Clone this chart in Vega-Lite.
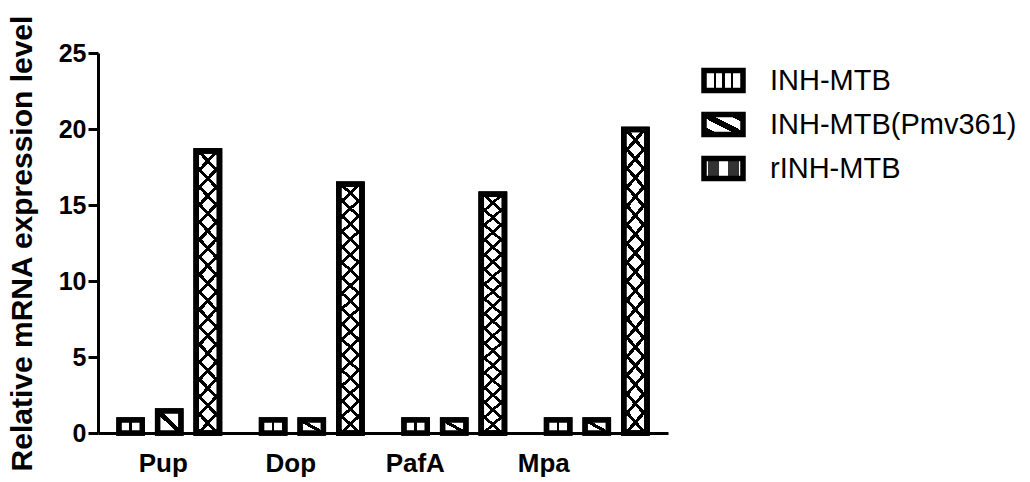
{
  "$schema": "https://vega.github.io/schema/vega-lite/v6.json",
  "width": 570,
  "height": 380,
  "autosize": {"type": "none"},
  "padding": {"left": 98, "top": 53, "right": 362, "bottom": 49},
  "background": "white",
  "config": {
    "view": {"stroke": null},
    "font": "Liberation Sans"
  },
  "data": {
    "values": [
      {"gene": "Pup", "group": "INH-MTB", "value": 0.85},
      {"gene": "Pup", "group": "INH-MTB(Pmv361)", "value": 1.45},
      {"gene": "Pup", "group": "rINH-MTB", "value": 18.55},
      {"gene": "Dop", "group": "INH-MTB", "value": 0.85},
      {"gene": "Dop", "group": "INH-MTB(Pmv361)", "value": 0.85},
      {"gene": "Dop", "group": "rINH-MTB", "value": 16.36},
      {"gene": "PafA", "group": "INH-MTB", "value": 0.85},
      {"gene": "PafA", "group": "INH-MTB(Pmv361)", "value": 0.85},
      {"gene": "PafA", "group": "rINH-MTB", "value": 15.7},
      {"gene": "Mpa", "group": "INH-MTB", "value": 0.85},
      {"gene": "Mpa", "group": "INH-MTB(Pmv361)", "value": 0.85},
      {"gene": "Mpa", "group": "rINH-MTB", "value": 19.97}
    ]
  },
  "encoding": {
    "x": {
      "field": "gene",
      "type": "nominal",
      "sort": ["Pup", "Dop", "PafA", "Mpa"],
      "scale": {"paddingInner": 0.19, "paddingOuter": 0.095},
      "axis": {
        "title": null,
        "labelAngle": 0,
        "labelFontSize": 26,
        "labelFontWeight": "bold",
        "labelColor": "black",
        "labelPadding": 17,
        "labelOffset": {
          "condition": [
            {"test": "datum.value === 'Pup'", "value": -6},
            {"test": "datum.value === 'Dop'", "value": -21},
            {"test": "datum.value === 'PafA'", "value": -39}
          ],
          "value": -53
        },
        "ticks": false,
        "domainColor": "black",
        "domainWidth": 3
      }
    },
    "xOffset": {
      "field": "group",
      "type": "nominal",
      "sort": ["INH-MTB", "INH-MTB(Pmv361)", "rINH-MTB"],
      "scale": {"paddingInner": 0.4, "paddingOuter": 0.195}
    },
    "y": {
      "field": "value",
      "type": "quantitative",
      "scale": {"domain": [0, 25], "nice": false},
      "axis": {
        "title": "Relative mRNA expression level",
        "titleFontSize": 30,
        "titleFontWeight": "bold",
        "titleColor": "black",
        "titlePadding": 21,
        "values": [0, 5, 10, 15, 20, 25],
        "labelFontSize": 25,
        "labelFontWeight": "bold",
        "labelColor": "black",
        "labelPadding": 2,
        "tickSize": 10,
        "tickWidth": 3,
        "tickColor": "black",
        "domainColor": "black",
        "domainWidth": 3,
        "grid": false
      }
    }
  },
  "layer": [
    {
      "mark": {"type": "bar", "stroke": "black", "strokeWidth": 5.5, "strokeJoin": "miter"},
      "encoding": {
        "fill": {
          "field": "group",
          "type": "nominal",
          "sort": ["INH-MTB", "INH-MTB(Pmv361)", "rINH-MTB"],
          "scale": {
            "domain": ["INH-MTB", "INH-MTB(Pmv361)", "rINH-MTB"],
            "range": [
              {"expr": "{gradient: 'linear', x1: 0, y1: 0, x2: 1, y2: 0, stops: [{offset: 0, color: 'white'}, {offset: 0.256, color: 'white'}, {offset: 0.256, color: 'black'}, {offset: 0.32, color: 'black'}, {offset: 0.32, color: 'white'}, {offset: 0.468, color: 'white'}, {offset: 0.468, color: 'black'}, {offset: 0.532, color: 'black'}, {offset: 0.532, color: 'white'}, {offset: 0.68, color: 'white'}, {offset: 0.68, color: 'black'}, {offset: 0.744, color: 'black'}, {offset: 0.744, color: 'white'}, {offset: 1, color: 'white'}]}"},
              {"expr": "{gradient: 'linear', x1: 0, y1: 1, x2: 1, y2: 0, stops: [{offset: 0, color: 'black'}, {offset: 0.2, color: 'black'}, {offset: 0.2, color: 'white'}, {offset: 0.42, color: 'white'}, {offset: 0.42, color: 'black'}, {offset: 0.58, color: 'black'}, {offset: 0.58, color: 'white'}, {offset: 0.8, color: 'white'}, {offset: 0.8, color: 'black'}, {offset: 1, color: 'black'}]}"},
              {"expr": "{gradient: 'linear', x1: 0, y1: 0, x2: 1, y2: 0, stops: [{offset: 0, color: 'white'}, {offset: 0.1, color: 'white'}, {offset: 0.1, color: '#333'}, {offset: 0.38, color: '#333'}, {offset: 0.38, color: 'white'}, {offset: 0.62, color: 'white'}, {offset: 0.62, color: '#333'}, {offset: 0.9, color: '#333'}, {offset: 0.9, color: 'white'}, {offset: 1, color: 'white'}]}"}
            ]
          },
          "legend": {
            "title": null,
            "orient": "none",
            "legendX": 603,
            "legendY": 5,
            "padding": 0,
            "symbolType": "M-1,-0.513H1V0.513H-1Z",
            "symbolSize": 1521,
            "symbolStrokeColor": "black",
            "symbolStrokeWidth": 5.5,
            "labelFontSize": 29,
            "labelColor": "black",
            "labelOffset": 24,
            "rowPadding": 0,
            "labelLimit": 400
          }
        }
      }
    },
    {
      "transform": [{"filter": "datum.group === 'INH-MTB'"}],
      "mark": {
        "type": "bar",
        "stroke": "black",
        "strokeWidth": 5.5,
        "strokeJoin": "miter",
        "fill": {"gradient": "linear", "x1": 0, "y1": 0, "x2": 1, "y2": 0, "stops": [
          {"offset": 0, "color": "white"}, {"offset": 0.45, "color": "white"},
          {"offset": 0.45, "color": "black"}, {"offset": 0.55, "color": "black"},
          {"offset": 0.55, "color": "white"}, {"offset": 1, "color": "white"}]}
      }
    },
    {
      "transform": [{"filter": "datum.group === 'INH-MTB(Pmv361)'"}],
      "mark": {
        "type": "bar",
        "stroke": "black",
        "strokeWidth": 5.5,
        "strokeJoin": "miter",
        "fill": {"gradient": "linear", "x1": 0, "y1": 1, "x2": 1, "y2": 0, "stops": [
          {"offset": 0, "color": "white"}, {"offset": 0.43, "color": "white"},
          {"offset": 0.43, "color": "black"}, {"offset": 0.57, "color": "black"},
          {"offset": 0.57, "color": "white"}, {"offset": 1, "color": "white"}]}
      }
    },
    {
      "transform": [{"filter": "datum.group === 'rINH-MTB'"}],
      "mark": {
        "type": "bar",
        "stroke": "black",
        "strokeWidth": 5.5,
        "strokeJoin": "miter",
        "fill": {"gradient": "linear", "x1": 0, "y1": 0, "x2": 0.094, "y2": 1.079, "stops": [
          {"offset": 0, "color": "white"},
          {"offset": 0.00829, "color": "white"}, {"offset": 0.00829, "color": "black"}, {"offset": 0.02276, "color": "black"}, {"offset": 0.02276, "color": "white"},
          {"offset": 0.06529, "color": "white"}, {"offset": 0.06529, "color": "black"}, {"offset": 0.07976, "color": "black"}, {"offset": 0.07976, "color": "white"},
          {"offset": 0.12229, "color": "white"}, {"offset": 0.12229, "color": "black"}, {"offset": 0.13676, "color": "black"}, {"offset": 0.13676, "color": "white"},
          {"offset": 0.17928, "color": "white"}, {"offset": 0.17928, "color": "black"}, {"offset": 0.19375, "color": "black"}, {"offset": 0.19375, "color": "white"},
          {"offset": 0.23628, "color": "white"}, {"offset": 0.23628, "color": "black"}, {"offset": 0.25075, "color": "black"}, {"offset": 0.25075, "color": "white"},
          {"offset": 0.29328, "color": "white"}, {"offset": 0.29328, "color": "black"}, {"offset": 0.30775, "color": "black"}, {"offset": 0.30775, "color": "white"},
          {"offset": 0.35027, "color": "white"}, {"offset": 0.35027, "color": "black"}, {"offset": 0.36474, "color": "black"}, {"offset": 0.36474, "color": "white"},
          {"offset": 0.40727, "color": "white"}, {"offset": 0.40727, "color": "black"}, {"offset": 0.42174, "color": "black"}, {"offset": 0.42174, "color": "white"},
          {"offset": 0.46427, "color": "white"}, {"offset": 0.46427, "color": "black"}, {"offset": 0.47874, "color": "black"}, {"offset": 0.47874, "color": "white"},
          {"offset": 0.52126, "color": "white"}, {"offset": 0.52126, "color": "black"}, {"offset": 0.53573, "color": "black"}, {"offset": 0.53573, "color": "white"},
          {"offset": 0.57826, "color": "white"}, {"offset": 0.57826, "color": "black"}, {"offset": 0.59273, "color": "black"}, {"offset": 0.59273, "color": "white"},
          {"offset": 0.63526, "color": "white"}, {"offset": 0.63526, "color": "black"}, {"offset": 0.64973, "color": "black"}, {"offset": 0.64973, "color": "white"},
          {"offset": 0.69225, "color": "white"}, {"offset": 0.69225, "color": "black"}, {"offset": 0.70672, "color": "black"}, {"offset": 0.70672, "color": "white"},
          {"offset": 0.74925, "color": "white"}, {"offset": 0.74925, "color": "black"}, {"offset": 0.76372, "color": "black"}, {"offset": 0.76372, "color": "white"},
          {"offset": 0.80625, "color": "white"}, {"offset": 0.80625, "color": "black"}, {"offset": 0.82072, "color": "black"}, {"offset": 0.82072, "color": "white"},
          {"offset": 0.86324, "color": "white"}, {"offset": 0.86324, "color": "black"}, {"offset": 0.87771, "color": "black"}, {"offset": 0.87771, "color": "white"},
          {"offset": 0.92024, "color": "white"}, {"offset": 0.92024, "color": "black"}, {"offset": 0.93471, "color": "black"}, {"offset": 0.93471, "color": "white"},
          {"offset": 0.97724, "color": "white"}, {"offset": 0.97724, "color": "black"}, {"offset": 0.99171, "color": "black"}, {"offset": 0.99171, "color": "white"},
          {"offset": 1, "color": "white"}]}
      }
    },
    {
      "transform": [{"filter": "datum.group === 'rINH-MTB'"}],
      "mark": {
        "type": "bar",
        "stroke": "black",
        "strokeWidth": 5.5,
        "strokeJoin": "miter",
        "fill": {"gradient": "linear", "x1": 0, "y1": 1, "x2": 0.094, "y2": -0.079, "stops": [
          {"offset": 0, "color": "rgba(0,0,0,0)"},
          {"offset": 0.00829, "color": "rgba(0,0,0,0)"}, {"offset": 0.00829, "color": "black"}, {"offset": 0.02276, "color": "black"}, {"offset": 0.02276, "color": "rgba(0,0,0,0)"},
          {"offset": 0.06529, "color": "rgba(0,0,0,0)"}, {"offset": 0.06529, "color": "black"}, {"offset": 0.07976, "color": "black"}, {"offset": 0.07976, "color": "rgba(0,0,0,0)"},
          {"offset": 0.12229, "color": "rgba(0,0,0,0)"}, {"offset": 0.12229, "color": "black"}, {"offset": 0.13676, "color": "black"}, {"offset": 0.13676, "color": "rgba(0,0,0,0)"},
          {"offset": 0.17928, "color": "rgba(0,0,0,0)"}, {"offset": 0.17928, "color": "black"}, {"offset": 0.19375, "color": "black"}, {"offset": 0.19375, "color": "rgba(0,0,0,0)"},
          {"offset": 0.23628, "color": "rgba(0,0,0,0)"}, {"offset": 0.23628, "color": "black"}, {"offset": 0.25075, "color": "black"}, {"offset": 0.25075, "color": "rgba(0,0,0,0)"},
          {"offset": 0.29328, "color": "rgba(0,0,0,0)"}, {"offset": 0.29328, "color": "black"}, {"offset": 0.30775, "color": "black"}, {"offset": 0.30775, "color": "rgba(0,0,0,0)"},
          {"offset": 0.35027, "color": "rgba(0,0,0,0)"}, {"offset": 0.35027, "color": "black"}, {"offset": 0.36474, "color": "black"}, {"offset": 0.36474, "color": "rgba(0,0,0,0)"},
          {"offset": 0.40727, "color": "rgba(0,0,0,0)"}, {"offset": 0.40727, "color": "black"}, {"offset": 0.42174, "color": "black"}, {"offset": 0.42174, "color": "rgba(0,0,0,0)"},
          {"offset": 0.46427, "color": "rgba(0,0,0,0)"}, {"offset": 0.46427, "color": "black"}, {"offset": 0.47874, "color": "black"}, {"offset": 0.47874, "color": "rgba(0,0,0,0)"},
          {"offset": 0.52126, "color": "rgba(0,0,0,0)"}, {"offset": 0.52126, "color": "black"}, {"offset": 0.53573, "color": "black"}, {"offset": 0.53573, "color": "rgba(0,0,0,0)"},
          {"offset": 0.57826, "color": "rgba(0,0,0,0)"}, {"offset": 0.57826, "color": "black"}, {"offset": 0.59273, "color": "black"}, {"offset": 0.59273, "color": "rgba(0,0,0,0)"},
          {"offset": 0.63526, "color": "rgba(0,0,0,0)"}, {"offset": 0.63526, "color": "black"}, {"offset": 0.64973, "color": "black"}, {"offset": 0.64973, "color": "rgba(0,0,0,0)"},
          {"offset": 0.69225, "color": "rgba(0,0,0,0)"}, {"offset": 0.69225, "color": "black"}, {"offset": 0.70672, "color": "black"}, {"offset": 0.70672, "color": "rgba(0,0,0,0)"},
          {"offset": 0.74925, "color": "rgba(0,0,0,0)"}, {"offset": 0.74925, "color": "black"}, {"offset": 0.76372, "color": "black"}, {"offset": 0.76372, "color": "rgba(0,0,0,0)"},
          {"offset": 0.80625, "color": "rgba(0,0,0,0)"}, {"offset": 0.80625, "color": "black"}, {"offset": 0.82072, "color": "black"}, {"offset": 0.82072, "color": "rgba(0,0,0,0)"},
          {"offset": 0.86324, "color": "rgba(0,0,0,0)"}, {"offset": 0.86324, "color": "black"}, {"offset": 0.87771, "color": "black"}, {"offset": 0.87771, "color": "rgba(0,0,0,0)"},
          {"offset": 0.92024, "color": "rgba(0,0,0,0)"}, {"offset": 0.92024, "color": "black"}, {"offset": 0.93471, "color": "black"}, {"offset": 0.93471, "color": "rgba(0,0,0,0)"},
          {"offset": 0.97724, "color": "rgba(0,0,0,0)"}, {"offset": 0.97724, "color": "black"}, {"offset": 0.99171, "color": "black"}, {"offset": 0.99171, "color": "rgba(0,0,0,0)"},
          {"offset": 1, "color": "rgba(0,0,0,0)"}]}
      }
    }
  ]
}
